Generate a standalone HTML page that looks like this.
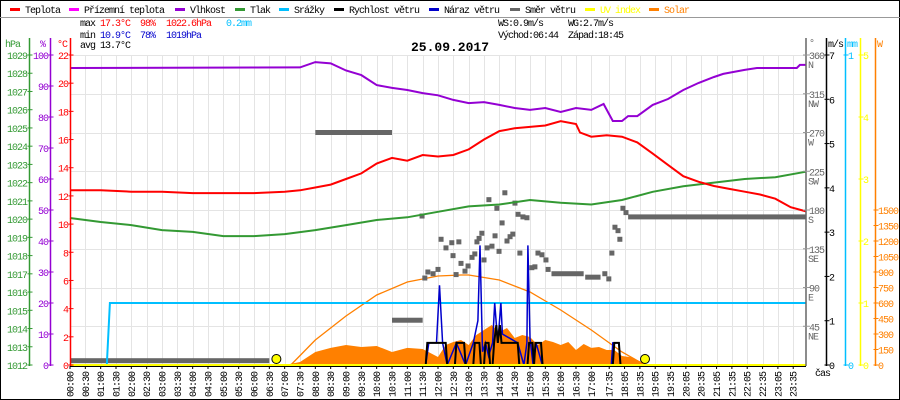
<!DOCTYPE html>
<html><head><meta charset="utf-8"><style>
body{margin:0;background:#fff}
svg{display:block;font-family:"Liberation Mono",monospace;font-size:10px;letter-spacing:-1px}
</style></head><body>
<svg id="c" width="900" height="400" xmlns="http://www.w3.org/2000/svg"></svg>
<script>
// ---- data ----
const tempT=[0,1,2,3,4,5,6,7,7.5,8,8.5,9,9.5,10,10.5,11,11.5,12,12.5,13,13.5,14,14.5,15,15.5,16,16.5,16.63,17,17.5,18,18.5,19,19.5,20,20.5,21,21.5,22,22.5,23,23.5,24];
const tempV=[12.4,12.4,12.3,12.3,12.2,12.2,12.2,12.3,12.4,12.6,12.8,13.2,13.6,14.3,14.7,14.5,14.9,14.8,14.9,15.3,16.0,16.6,16.8,16.9,17.0,17.3,17.1,16.5,16.2,16.3,16.2,15.8,15.0,14.2,13.4,13.0,12.7,12.5,12.3,12.1,11.8,11.2,10.9];
const humT=[0,7.5,8,8.5,9,9.5,10,10.5,11,11.5,12,12.5,13,13.5,14,14.5,15,15.5,16,16.5,17,17.4,17.7,18,18.2,18.5,19,19.5,20,20.5,21,21.3,22,22.4,23.7,23.8,24];
const humV=[95.8,96,97.7,97.3,95,93.5,90.3,89.4,88.7,87.7,87,85.5,84.5,84.8,83.9,82.9,82.3,82.9,81.6,82.9,82.3,84.2,78.7,78.7,80.3,80.3,83.9,85.8,88.7,91,92.9,93.9,95.2,95.8,95.8,96.8,96.8];
const presT=[0,1,2,3,4,5,6,7,8,9,10,11,12,13,14,15,16,17,18,19,20,21,22,23,24];
const presV=[1020.06,1019.84,1019.67,1019.4,1019.3,1019.07,1019.07,1019.18,1019.4,1019.67,1019.95,1020.1,1020.4,1020.7,1020.8,1021.05,1020.9,1020.8,1021.05,1021.5,1021.8,1022.0,1022.2,1022.3,1022.6];
const rainT=[0,1.2,1.3,24];
const rainV=[0,0,0.2,0.2];
const solarT=[7,7.5,8,8.5,9,9.5,10,10.5,11,11.5,12,12.25,12.5,12.75,13,13.25,13.5,13.75,14,14.25,14.5,14.75,15,15.25,15.5,15.75,16,16.25,16.5,16.75,17,17.25,17.5,17.75,18,18.25,18.5,18.75,19];
const solarV=[0,29,126,165,194,174,184,126,165,155,77,194,223,242,194,290,339,387,319,358,261,290,271,194,242,223,194,223,145,203,165,174,145,145,87,77,48,10,0];
const solarMaxT=[7.2,8,9,10,11,12,12.75,13,14,15,16,17,18,18.75];
const solarMaxV=[0,242,474,677,803,861,871,871,823,706,532,339,126,0];
const windT=[0,11.6,11.65,12.25,12.3,12.55,12.6,12.85,12.9,13.15,13.2,13.35,13.4,13.5,13.55,13.65,13.7,13.78,13.83,13.9,13.95,14.02,14.07,14.1,14.6,14.65,14.92,14.97,15.08,15.13,15.18,15.36,15.41,17.7,17.75,17.9,17.95,24];
const windV=[0,0,0.5,0.5,0,0,0.5,0.5,0,0,0.5,0.5,0,0,0.5,0.5,0,0,0.5,0.9,0.5,0.9,0.5,0.5,0.5,0,0,0.5,0.5,0,0.5,0.5,0,0,0.5,0.5,0,0];
const gustT=[0,11.6,11.7,11.95,12.05,12.15,12.3,12.6,12.9,13.15,13.3,13.37,13.45,13.55,13.65,13.78,13.85,13.95,14.05,14.1,14.6,14.8,14.9,14.93,15.0,15.1,15.2,15.4,17.65,17.7,17.9,17.95,24];
const gustV=[0,0,0.5,0.5,1.8,0.5,0,0.5,0,0.5,1.0,2.7,0.3,0.5,0.2,0.5,1.4,0.5,1.4,0.7,0.5,0,0.5,2.7,0.6,0,0.5,0,0,0.5,0.5,0,0];
const dirT=[11.48,11.57,11.67,11.84,12.0,12.1,12.26,12.45,12.49,12.68,12.59,12.75,12.88,12.98,13.11,13.2,13.27,13.34,13.43,13.5,13.6,13.66,13.76,13.86,13.92,13.99,14.09,14.18,14.25,14.35,14.44,14.51,14.61,14.67,14.77,14.9,15.06,15.16,15.26,15.39,15.52,15.59,17.44,17.57,17.67,17.77,17.87,17.93,18.03,18.13];
const dirV=[173,101,108,106,111,146,136,142,127,143,105,118,109,115,125,129,143,147,153,122,136,192,138,150,182,132,165,200,144,149,152,188,175,130,172,171,113,114,130,128,122,111,106,100,130,160,156,146,182,177];
const dirRunStart=[0,8.0,10.5,15.7,16.8,18.2];
const dirRunEnd=[6.5,10.5,11.5,16.75,17.3,24];
const dirRunVal=[5,270,52,106,102,172];
const xLabels=["00:00","00:30","01:00","01:30","02:00","02:30","03:00","03:30","04:00","04:30","05:00","05:30","06:00","06:30","07:00","07:30","08:00","08:30","09:00","09:30","10:00","10:30","11:00","11:30","12:00","12:30","13:00","13:30","14:00","14:30","15:00","15:30","16:00","16:30","17:00","17:35","18:05","18:35","19:05","19:35","20:05","20:35","21:05","21:35","22:05","22:35","23:05","23:35"];
const sunEvents=[6.73,18.75];

// ---- scales ----
const X0=70,X1=806,Y0=365,Y1=55;
const xs=h=>X0+h*(X1-X0)/24;
const yT=v=>Y0-v*(Y0-Y1)/22;
const yH=v=>Y0-v*(Y0-Y1)/100;
const yP=v=>Y0-(v-1012)*(Y0-Y1)/17;
const yR=v=>Y0-v*(Y0-Y1)/1;
const yW=v=>Y0-v*(Y0-Y1)/7;
const yD=v=>Y0-v*(Y0-Y1)/360;
const yS=v=>Y0-v*155/1500;
const svg=document.getElementById('c');
const NS="http://www.w3.org/2000/svg";
function el(tag,attrs,parent){const e=document.createElementNS(NS,tag);for(const k in attrs)e.setAttribute(k,attrs[k]);(parent||svg).appendChild(e);return e;}
function txt(x,y,s,fill,anchor,extra){const t=el('text',Object.assign({x:x,y:y,fill:fill||'#000','text-anchor':anchor||'start'},extra||{}));t.textContent=s;return t;}
function line(x1,y1,x2,y2,c,w){return el('line',{x1,y1,x2,y2,stroke:c,'stroke-width':w||1});}
function pathOf(T,V,ys){return T.map((t,i)=>(i?'L':'M')+xs(t).toFixed(1)+','+ys(V[i]).toFixed(1)).join('');}

// frame
let r=el('rect',{x:0.5,y:0.5,width:899,height:399,fill:'#fff',stroke:'#000'});

line(0,17.5,900,17.5,'#999');

// legend
const legNames=["Teplota","Přízemní teplota","Vlhkost","Tlak","Srážky","Rychlost větru","Náraz větru","Směr větru","UV index","Solar"];
const legCols=["#ff0000","#ff00ff","#9400d3","#339933","#00bfff","#000000","#0000cc","#666666","#ffff00","#ff8000"];
const legX=[10,69,175,235,279,334,429,510,585,649];
legNames.forEach((n,i)=>{
  const g=el('g',{});
  
  
  el('line',{x1:legX[i],y1:9.5,x2:legX[i]+10,y2:9.5,stroke:legCols[i],'stroke-width':3},g);
  g.appendChild(txt(legX[i]+15,13,n,i==8?'#ffff00':(i==9?'#ff8000':'#000')));
});

// stats
const st=el('g',{});
[[80,26,'max','#000'],[100,26,'17.3°C','#ff0000'],[140,26,'98%','#ff0000'],[166,26,'1022.6hPa','#ff0000'],[226,26,'0.2mm','#00bfff'],
 [80,38,'min','#000'],[100,38,'10.9°C','#0000cc'],[140,38,'78%','#0000cc'],[166,38,'1019hPa','#0000cc'],
 [80,48,'avg','#000'],[100,48,'13.7°C','#000'],
 [498,26,'WS:0.9m/s','#000'],[568,26,'WG:2.7m/s','#000'],[498,38,'Východ:06:44','#000'],[568,38,'Západ:18:45','#000']].forEach(a=>st.appendChild(txt(a[0],a[1],a[2],a[3])));
let tt=txt(450,51,'25.09.2017','#000','middle',{'font-weight':'bold','font-size':'13px','letter-spacing':'0'});


// grid
const grid=el('g',{stroke:'#e4e4e4','stroke-width':1});
for(let i=0;i<=8;i++){const y=Math.round(Y0-i*(Y0-Y1)/8)+0.5;el('line',{x1:X0,y1:y,x2:X1,y2:y},grid);}
xLabels.forEach(l=>{const p=l.split(':');const h=+p[0]+ +p[1]/60;const x=Math.round(xs(h))+0.5;el('line',{x1:x,y1:Y1,x2:x,y2:Y0},grid);});

// solar area
let sa=el('path',{d:pathOf(solarT,solarV,yS)+'L'+xs(solarT[solarT.length-1])+','+Y0+'L'+xs(solarT[0])+','+Y0+'Z',fill:'#ff8000'});

let sm=el('path',{d:pathOf(solarMaxT,solarMaxV,yS),fill:'none',stroke:'#ff8000','stroke-width':1.3});


// wind direction
const dg=el('g',{fill:'#666'});
dirRunStart.forEach((s,i)=>{el('rect',{x:xs(s),y:yD(dirRunVal[i])-2.5,width:xs(dirRunEnd[i])-xs(s),height:5},dg);});
dirT.forEach((t,i)=>{el('rect',{x:xs(t)-2.5,y:yD(dirV[i])-2.5,width:5,height:5},dg);});

// rain
let rp=el('path',{d:pathOf(rainT,rainV,yR),fill:'none',stroke:'#00bfff','stroke-width':2});

let pp=el('path',{d:pathOf(presT,presV,yP),fill:'none',stroke:'#339933','stroke-width':2});

let tp=el('path',{d:pathOf(tempT,tempV,yT),fill:'none',stroke:'#ff0000','stroke-width':2});

let hp=el('path',{d:pathOf(humT,humV,yH),fill:'none',stroke:'#9400d3','stroke-width':2});

let gp=el('path',{d:pathOf(gustT,gustV,yW),fill:'none',stroke:'#0000cc','stroke-width':1.5});

let wp=el('path',{d:pathOf(windT,windV,yW),fill:'none',stroke:'#000','stroke-width':2});


// x axis base
line(X0,365,X1,365,'#ffff00',2);
line(X0,366.5,X1,366.5,'#000',1);
const xa=el('g',{});
xLabels.forEach(l=>{const p=l.split(':');const h=+p[0]+ +p[1]/60;const x=xs(h);
  el('line',{x1:x,y1:366,x2:x,y2:369,stroke:'#000'},xa);
  xa.appendChild(txt(0,0,l,'#000','end',{transform:'translate('+(x+3.5)+',372) rotate(-90)'}));});
let cas=txt(815,376,'čas','#000');
sunEvents.forEach((h,i)=>{let c=el('circle',{cx:xs(h),cy:359,r:4.5,fill:'#ffff00',stroke:'#000'});
  });

// axes
function vaxis(x,col,name,ticks,ysf,labelX,anchor,title,titleX){
  const g=el('g',{});
  el('line',{x1:x,y1:Y1-17,x2:x,y2:Y0+1,stroke:col,'stroke-width':1.5},g);
  ticks.forEach(v=>{const y=ysf(v);el('line',{x1:x-2,y1:y,x2:x+3,y2:y,stroke:col},g);
    g.appendChild(txt(labelX,y+4,String(v),col,anchor));});
  g.appendChild(txt(titleX,47,title,col,'start'));
}
vaxis(29.5,'#339933','pressure-axis',[1012,1013,1014,1015,1016,1017,1018,1019,1020,1021,1022,1023,1024,1025,1026,1027,1028,1029],yP,27,'end','hPa',5);
vaxis(50.5,'#9400d3','humidity-axis',[0,10,20,30,40,50,60,70,80,90,100],yH,48,'end','%',40);
vaxis(70.5,'#ff0000','temperature-axis',[0,2,4,6,8,10,12,14,16,18,20,22],yT,68,'end','°C',57);
const da=el('g',{});
el('line',{x1:806,y1:Y1-17,x2:806,y2:Y0+1,stroke:'#666','stroke-width':1.5},da);
const dTicks=[45,90,135,180,225,270,315,360];const dNames=['NE','E','SE','S','SW','W','NW','N'];
dTicks.forEach((v,i)=>{const y=yD(v);el('line',{x1:803,y1:y,x2:810,y2:y,stroke:'#999'},da);
  da.appendChild(txt(809,y+4,String(v),'#666'));da.appendChild(txt(808,y+13,dNames[i],'#666'));});
da.appendChild(txt(809,46,'°','#666'));
vaxis(826.5,'#000','wind-speed-axis',[0,1,2,3,4,5,6,7],yW,829,'start','m/s',828);
vaxis(845.5,'#00bfff','rain-axis',[0,1],yR,848,'start','mm',847);
vaxis(860.5,'#ffff00','uv-axis',[0,1,2,3,4,5],v=>Y0-v*62,863,'start','',863);
vaxis(875.5,'#ff8000','solar-axis',[0,150,300,450,600,750,900,1050,1200,1350,1500],yS,878,'start','W',877);
</script>
</body></html>
